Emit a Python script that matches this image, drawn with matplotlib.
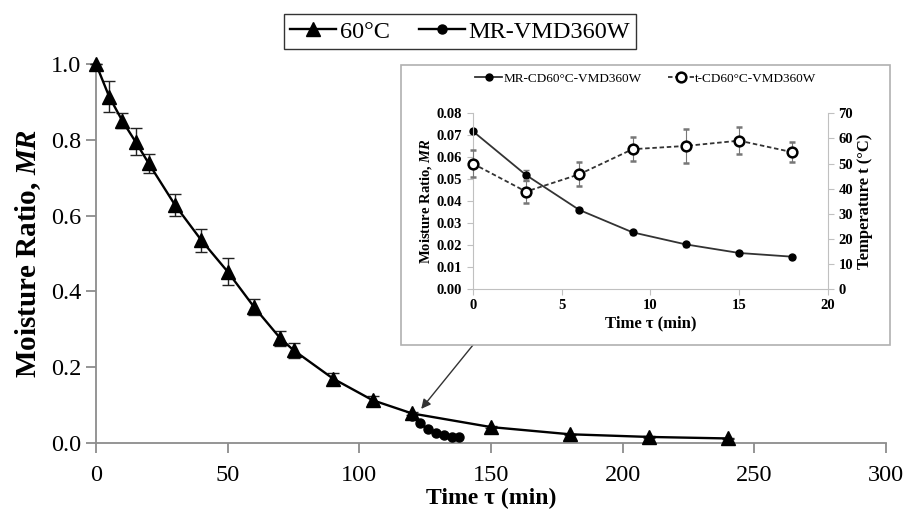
import matplotlib
matplotlib.use("Agg")
import matplotlib.pyplot as plt
from matplotlib.patches import Rectangle
from matplotlib.lines import Line2D

# ---- data ----
t_60 = [0, 5, 10, 15, 20, 30, 40, 50, 60, 70, 75, 90, 105, 120, 150, 180, 210, 240]
mr_60 = [1.0, 0.914, 0.85, 0.795, 0.738, 0.628, 0.535, 0.452, 0.359, 0.276, 0.245,
         0.17, 0.113, 0.078, 0.042, 0.023, 0.016, 0.012]
err_60 = [0.0, 0.04, 0.02, 0.035, 0.025, 0.03, 0.03, 0.035, 0.02, 0.02, 0.02,
          0.015, 0.01, 0.005, 0.003, 0.002, 0.002, 0.002]

t_vmd = [0, 3, 6, 9, 12, 15, 18]          # minutes of VMD stage
mr_vmd = [0.0719, 0.0519, 0.036, 0.0258, 0.0203, 0.0164, 0.0147]
mr_vmd_err = [0.001, 0.0025, 0.001, 0.001, 0.001, 0.001, 0.001]
temp_vmd = [50.0, 38.8, 45.7, 55.7, 57.0, 59.1, 54.5]
temp_err = [5.2, 4.6, 4.8, 4.7, 6.8, 5.4, 4.0]
vmd_start = 120

main_xticks = [0, 50, 100, 150, 200, 250, 300]
main_yticks = [0.0, 0.2, 0.4, 0.6, 0.8, 1.0]
inset_xticks = [0, 5, 10, 15, 20]
inset_yticks = [0.0, 0.01, 0.02, 0.03, 0.04, 0.05, 0.06, 0.07, 0.08]
inset_y2ticks = [0, 10, 20, 30, 40, 50, 60, 70]

plt.rcParams['font.family'] = ['Liberation Serif', 'DejaVu Serif']
plt.rcParams['mathtext.fontset'] = 'custom'
plt.rcParams['mathtext.it'] = 'Liberation Serif:italic:bold'
plt.rcParams['mathtext.rm'] = 'Liberation Serif:bold'

W, H = 923, 513
fig = plt.figure(figsize=(W / 100, H / 100), dpi=100)

gray = '#8c8c8c'
ax = fig.add_axes([96 / W, 1 - 443 / H, (886 - 96) / W, (443 - 64) / H])
ax.set_xlim(0, 300)
ax.set_ylim(0, 1.0)
for s in ['top', 'right']:
    ax.spines[s].set_visible(False)
for s in ['left', 'bottom']:
    ax.spines[s].set_color(gray)
    ax.spines[s].set_linewidth(1.3)
ax.tick_params(axis='both', colors=gray, labelcolor='black', labelsize=17.5,
               direction='out', length=7, width=1.3)
ax.tick_params(axis='x', pad=9)
ax.set_xticks(main_xticks)
ax.set_yticks(main_yticks)
ax.set_yticklabels([f'{v:.1f}' for v in main_yticks])

ax.errorbar(t_60, mr_60, yerr=err_60, color='black', lw=1.7, marker='^', ms=9.5,
            capsize=4, elinewidth=1.0, ecolor='#222222', capthick=1.0,
            clip_on=False, zorder=3)
t_vmd_main = [vmd_start + t for t in t_vmd]
ax.plot(t_vmd_main, mr_vmd, color='black', lw=1.7, marker='o', ms=6.5,
        clip_on=False, zorder=4)

ax.set_xlabel('Time τ (min)', fontsize=17, fontweight='bold', labelpad=1)
ax.set_ylabel('Moisture Ratio, $MR$', fontsize=21, fontweight='bold', labelpad=6)

h1 = Line2D([], [], color='black', lw=1.7, marker='^', ms=9.5)
h2 = Line2D([], [], color='black', lw=1.7, marker='o', ms=6.5)
leg = fig.legend(handles=[h1, h2], labels=['60°C', 'MR-VMD360W'],
                 loc='center', bbox_to_anchor=(460 / W, 1 - 31.5 / H), ncol=2,
                 fontsize=17.5, frameon=True, fancybox=False, edgecolor='black',
                 handlelength=1.9, handletextpad=0.15, columnspacing=1.2,
                 borderpad=0.25)
leg.get_frame().set_linewidth(1.0)

# inset box
fig.patches.append(Rectangle((401 / W, 1 - 345 / H), (890 - 401) / W, (345 - 65) / H,
                             transform=fig.transFigure, facecolor='white',
                             edgecolor='#b0b0b0', lw=1.2, zorder=5))

ia = fig.add_axes([472.7 / W, 1 - 289 / H, (828 - 472.7) / W, (289 - 113.3) / H])
ia.set_zorder(6)
ia.set_xlim(0, 20)
ia.set_ylim(0, 0.08)
ia.set_xticks(inset_xticks)
ia.set_yticks(inset_yticks)
ia.set_yticklabels([f'{v:.2f}' for v in inset_yticks])
for s in ['top', 'right']:
    ia.spines[s].set_visible(False)
for s in ['left', 'bottom']:
    ia.spines[s].set_color('#c0c0c0')
ia.tick_params(axis='both', colors='#c0c0c0', labelcolor='black', labelsize=10.5,
               direction='out', length=4)
for lab in ia.get_xticklabels() + ia.get_yticklabels():
    lab.set_fontweight('bold')
ia.errorbar(t_vmd, mr_vmd, yerr=mr_vmd_err, color='#333333', lw=1.3, marker='o',
            ms=5, mfc='black', mec='black', capsize=2.5, elinewidth=0.8,
            ecolor='#777777', clip_on=False)
ia.set_xlabel('Time τ (min)', fontsize=12, fontweight='bold', labelpad=2)
ia.set_ylabel('Moisture Ratio, $MR$', fontsize=10.5, fontweight='bold', labelpad=2)

ib = ia.twinx()
ib.set_ylim(0, 70)
ib.set_yticks(inset_y2ticks)
for s in ['top', 'left', 'bottom']:
    ib.spines[s].set_visible(False)
ib.spines['right'].set_color('#c0c0c0')
ib.tick_params(axis='y', colors='#c0c0c0', labelcolor='black', labelsize=10.5,
               direction='out', length=4)
for lab in ib.get_yticklabels():
    lab.set_fontweight('bold')
dash = (0, (2.5, 1.5))
ib.errorbar(t_vmd, temp_vmd, yerr=temp_err, color='#333333', lw=1.3, ls=dash,
            marker='o', ms=7, mfc='white', mec='black', mew=1.8, capsize=2.5,
            elinewidth=0.8, ecolor='#777777', clip_on=False)
ib.set_ylabel('Temperature t (°C)', fontsize=12, fontweight='bold', labelpad=3)

g1 = Line2D([], [], color='#333333', lw=1.3, marker='o', ms=5, mfc='black', mec='black')
g2 = Line2D([], [], color='#333333', lw=1.3, ls=dash, marker='o', ms=7,
            mfc='white', mec='black', mew=1.8)
ia.legend(handles=[g1, g2], labels=['MR-CD60°C-VMD360W', 't-CD60°C-VMD360W'],
          loc='center', bbox_to_anchor=(646 / W, 1 - 79 / H),
          bbox_transform=fig.transFigure, ncol=2, fontsize=9.5, frameon=False,
          handlelength=2.0, handletextpad=0.1, columnspacing=2.0)

ax.annotate('', xy=(123.5, 0.09), xycoords='data',
            xytext=(473 / W, 1 - 345 / H), textcoords='figure fraction',
            arrowprops=dict(arrowstyle='-|>', color='#333333', lw=1.0,
                            mutation_scale=14, shrinkA=0, shrinkB=0),
            zorder=7)

fig.savefig('out.png', dpi=100)
